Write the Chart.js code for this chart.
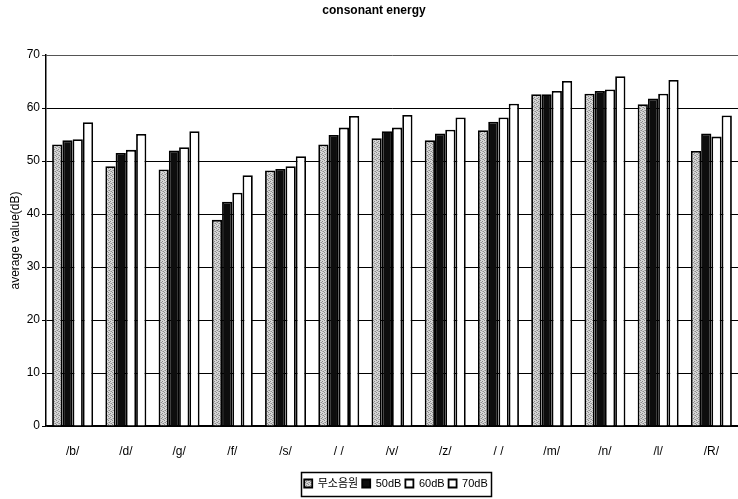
<!DOCTYPE html>
<html>
<head>
<meta charset="utf-8">
<title>consonant energy</title>
<script src="https://cdn.jsdelivr.net/npm/chart.js@4/dist/chart.umd.min.js"></script>
<style>
  html, body { margin: 0; padding: 0; background: #fff; }
  #wrap { width: 738px; height: 499px; }
</style>
</head>
<body>
<div id="wrap"><canvas id="c" width="738" height="499"></canvas></div>
<script>
// Consonant categories along the x axis
const categories = ['/b/', '/d/', '/g/', '/f/', '/s/', '/ /', '/v/', '/z/', '/ /', '/m/', '/n/', '/l/', '/R/'];

// Series names (noise conditions)
const seriesNames = ['무소음원', '50dB', '60dB', '70dB'];

// Average energy (dB) per consonant for each condition
const quietValues = [53.1, 49.0, 48.4, 38.9, 48.2, 53.1, 54.3, 53.9, 55.8, 62.6, 62.7, 60.7, 51.9];
const noise50Values = [53.9, 51.5, 52.0, 42.3, 48.5, 54.9, 55.6, 55.2, 57.4, 62.6, 63.2, 61.8, 55.2];
const noise60Values = [54.1, 52.1, 52.6, 44.0, 49.0, 56.3, 56.3, 55.9, 58.2, 63.2, 63.5, 62.7, 54.6];
const noise70Values = [57.3, 55.1, 55.6, 47.3, 50.9, 58.5, 58.7, 58.2, 60.8, 65.1, 66.0, 65.3, 58.6];

// Y axis range
const yMin = 0;
const yMax = 70;
const yStep = 10;

const canvas = document.getElementById('c');
const ctx2d = canvas.getContext('2d');

// Light grey stipple fill for the first series
function stipple() {
  const tile = document.createElement('canvas');
  tile.width = 4; tile.height = 4;
  const g = tile.getContext('2d');
  g.fillStyle = '#d6d6d6';
  g.fillRect(0, 0, 4, 4);
  g.fillStyle = '#8c8c8c';
  [[0, 0], [2, 1], [1, 2], [3, 3]].forEach(([x, y]) => g.fillRect(x, y, 1, 1));
  g.fillStyle = '#b0b0b0';
  [[2, 3], [0, 2]].forEach(([x, y]) => g.fillRect(x, y, 1, 1));
  return ctx2d.createPattern(tile, 'repeat');
}

const narrow = "'Liberation Sans Narrow', 'Liberation Sans', 'Noto Sans CJK KR', sans-serif";

// Centres the legend row under the plot and frames it with a box
const legendFrame = {
  id: 'legendFrame',
  afterLayout(chart) {
    const lg = chart.legend;
    const ca = chart.chartArea;
    const centre = (ca.left + ca.right) / 2 + 4;
    lg.left = 2 * centre - lg.right;
    const t = chart.titleBlock;
    if (t) { t.left += 5; t.right += 5; }
  },
  afterDraw(chart) {
    const lg = chart.legend;
    const p = lg.options.labels.padding;
    const lw = lg.lineWidths[0];
    const start = (lg.left + p + lg.right - lw) / 2;
    const c = chart.ctx;
    c.save();
    c.strokeStyle = '#000';
    c.lineWidth = 1.5;
    c.strokeRect(Math.round(start - 3) + 0.5, Math.round(lg.top + p - 6) + 0.5,
                 Math.round(lw - p + 6), 24);
    c.restore();
  }
};

new Chart(canvas, {
  type: 'bar',
  data: {
    labels: categories,
    datasets: [
      { label: seriesNames[0], data: quietValues, backgroundColor: stipple() },
      { label: seriesNames[1], data: noise50Values, backgroundColor: '#0d0d0d' },
      { label: seriesNames[2], data: noise60Values, backgroundColor: '#ffffff' },
      { label: seriesNames[3], data: noise70Values, backgroundColor: '#ffffff' }
    ].map(d => Object.assign(d, {
      borderColor: '#000',
      borderWidth: 1.8,
      barPercentage: 1.0,
      categoryPercentage: 0.77
    }))
  },
  options: {
    responsive: false,
    devicePixelRatio: 1,
    animation: false,
    layout: { padding: 0 },
    plugins: {
      tooltip: { enabled: false },
      title: {
        display: true,
        text: 'consonant energy',
        color: '#000',
        font: { family: "'Liberation Sans', Arial, sans-serif", size: 12, weight: 'bold' },
        padding: { top: 3, bottom: 37.6 }
      },
      legend: {
        position: 'bottom',
        labels: {
          boxWidth: 8,
          boxHeight: 8,
          padding: 4,
          color: '#000',
          font: { family: narrow, size: 11 }
        }
      }
    },
    scales: {
      x: {
        grid: { display: false },
        border: { display: true, color: '#000', width: 1.5 },
        ticks: {
          color: '#000',
          font: { family: narrow, size: 12 },
          padding: 10,
          maxRotation: 0,
          autoSkip: false
        },
        afterFit(scale) { scale.height = 48; }
      },
      y: {
        min: yMin,
        max: yMax,
        ticks: {
          stepSize: yStep,
          color: '#000',
          padding: 2,
          font: { family: narrow, size: 12 }
        },
        grid: {
          color: c => (c.tick && c.tick.value === yMax) ? '#555' : '#000',
          lineWidth: 1,
          tickLength: 4
        },
        border: { display: true, color: '#000', width: 1.5 },
        title: {
          display: true,
          text: 'average value(dB)',
          color: '#000',
          font: { family: "'Liberation Sans', Arial, sans-serif", size: 12 },
          padding: { top: 8, bottom: 0 }
        },
        afterFit(scale) { scale.width = 46; }
      }
    }
  },
  plugins: [legendFrame]
});
</script>
</body>
</html>
